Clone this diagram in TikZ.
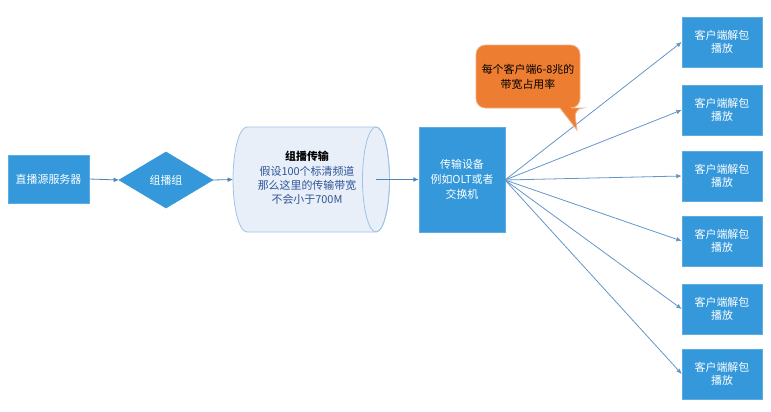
\documentclass[tikz,border=0pt]{standalone}
\usepackage{fontspec}
\setmainfont{Noto Sans CJK SC}
\usetikzlibrary{arrows.meta}
\definecolor{boxblue}{RGB}{52,152,219}
\definecolor{arrowblue}{RGB}{80,130,180}
\definecolor{fanblue}{RGB}{100,150,200}
\definecolor{cylfill}{RGB}{232,239,248}
\definecolor{cyledge}{RGB}{157,195,230}
\definecolor{cyltext}{RGB}{47,85,151}
\definecolor{calloutfill}{RGB}{237,125,49}
\definecolor{calloutedge}{RGB}{244,177,131}
\tikzset{
  bluebox/.style={draw=boxblue!80!white, fill=boxblue, text=white, inner sep=0pt, font=\fontsize{8.2}{10}\selectfont, align=center},
  clientbox/.style={bluebox, minimum width=80*0.75pt, minimum height=50*0.75pt},
  conn/.style={draw=arrowblue, line width=0.6pt, -{Latex[length=4pt,width=3.5pt]}},
  fan/.style={draw=fanblue, line width=0.6pt, -{Latex[length=4pt,width=3.5pt]}}
}
\begin{document}
\begin{tikzpicture}[x=0.75pt,y=-0.75pt]
\useasboundingbox (0,0) rectangle (771,411);
% source box
\node[bluebox, minimum width=81*0.75pt, minimum height=48*0.75pt] (src) at (48.5,179) {直播源服务器};
% diamond
\draw[draw=boxblue, fill=boxblue] (119,180) -- (166,152) -- (213,180) -- (166,208) -- cycle;
\coordinate (dl) at (119,180);
\coordinate (dr) at (213,180);
\node[text=white, font=\fontsize{8.2}{10}\selectfont] (grp) at (166,180) {组播组};
% cylinder
\draw[draw=cyledge, fill=cylfill, line width=0.6pt]
  (247,127) -- (376,127) arc[start angle=-90, end angle=90, x radius=13.5, y radius=52.5]
  -- (247,232) arc[start angle=90, end angle=270, x radius=14, y radius=52.5] -- cycle;
\draw[draw=cyledge, line width=0.6pt] (376,179.5) ellipse[x radius=13.5, y radius=52.5];
\coordinate (cl) at (233,179.5);
\coordinate (cr) at (376,179.5);
\node[align=center, font=\fontsize{8.2}{10.8}\selectfont] (cyl) at (307,178) {\textcolor{black}{\bfseries 组播传输}\\ \textcolor{cyltext}{假设100个标清频道}\\ \textcolor{cyltext}{那么这里的传输带宽}\\ \textcolor{cyltext}{不会小于700M}};
% transmission box
\node[bluebox, minimum width=86*0.75pt, minimum height=105*0.75pt, font=\fontsize{8.2}{11.5}\selectfont] (tx) at (462,179.5) {传输设备\\例如OLT或者\\交换机};
% clients
\node[clientbox] (c1) at (722,42) {客户端解包\\播放};
\node[clientbox] (c2) at (722,110) {客户端解包\\播放};
\node[clientbox] (c3) at (722,176) {客户端解包\\播放};
\node[clientbox] (c4) at (722,241) {客户端解包\\播放};
\node[clientbox] (c5) at (722,309) {客户端解包\\播放};
\node[clientbox] (c6) at (722,374) {客户端解包\\播放};
% connectors
\draw[conn] (src.east) -- (dl);
\draw[conn] (dr) -- (cl);
\draw[conn] (cr) -- (tx.west);
\coordinate (fo) at (505,180);
\foreach \c in {c1,c2,c3,c4,c5,c6} {
  \draw[fan] (fo) -- (\c.west);
}
% callout
\draw[draw=calloutedge, fill=calloutfill, line width=0.6pt, rounded corners=7pt]
  (476,45) -- (580,45) -- (580,108) -- (574,108) [sharp corners] -- (577,130) -- (560,108) [rounded corners=7pt] -- (476,108) -- cycle;
\node[align=center, text=black, font=\fontsize{8.2}{10.8}\selectfont] (note) at (528,77) {每个客户端6-8兆的\\带宽占用率};
\end{tikzpicture}
\end{document}
